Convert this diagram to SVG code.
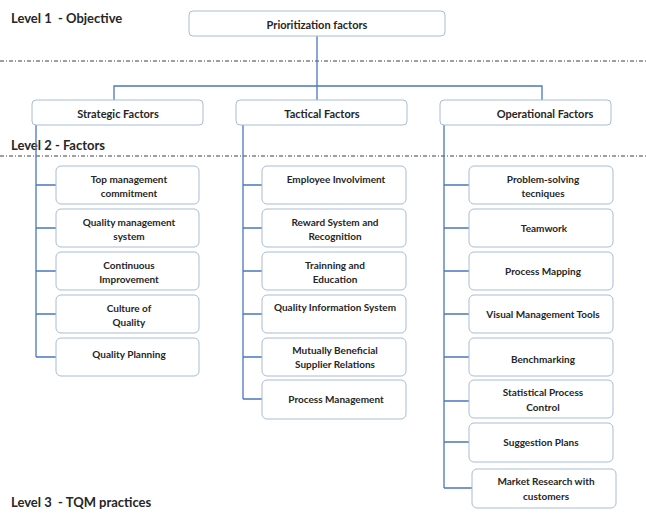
<svg xmlns="http://www.w3.org/2000/svg" width="646" height="513" viewBox="0 0 646 513">
<style>
.bg{fill:#fff}
.box{fill:#fff;stroke:#a9bcd6;stroke-width:1}
.t{font-family:Lato,"Liberation Sans",sans-serif;font-weight:bold;font-size:10px;fill:#262626;text-anchor:middle;dominant-baseline:central}
.t2{font-family:Lato,"Liberation Sans",sans-serif;font-weight:bold;font-size:11px;fill:#262626;text-anchor:middle;dominant-baseline:central}
.lvl{font-family:Lato,"Liberation Sans",sans-serif;font-weight:bold;font-size:13px;fill:#262626;white-space:pre}
.dash{stroke:#404040;stroke-width:1;stroke-dasharray:4 2 1 2;fill:none}
.c{stroke:#4a78bd;stroke-width:1.3;fill:none}
</style>
<rect class="bg" width="646" height="513"/>
<text class="lvl" x="11" y="23" xml:space="preserve">Level 1  - Objective</text>
<text class="lvl" x="11" y="150">Level 2 - Factors</text>
<text class="lvl" x="11" y="507" xml:space="preserve">Level 3  - TQM practices</text>
<line class="dash" x1="0" y1="61" x2="646" y2="61"/>
<line class="dash" x1="0" y1="156" x2="646" y2="156"/>
<g id="connectors">
<path class="c" d="M317,36 V100 M114,100 V86 H542 V100"/>
<path class="c" d="M36,125 V357 M36,185 H56 M36,228 H56 M36,271 H56 M36,314 H56 M36,357 H56"/>
<path class="c" d="M243,125 V399 M243,185 H262 M243,228 H262 M243,271 H262 M243,314 H262 M243,357 H262 M243,399 H262"/>
<path class="c" d="M444,125 V488 M444,185 H469 M444,228 H469 M444,271 H469 M444,314 H469 M444,357 H469 M444,401 H469 M444,442 H469 M444,488 H472"/>
</g>
<g id="n-prior"><rect class="box" x="189" y="11" width="256" height="25" rx="4"/><text class="t2" x="317" y="24">Prioritization factors</text></g>
<g id="n-strategic"><rect class="box" x="32" y="100" width="171" height="25" rx="4"/><text class="t2" x="118" y="113">Strategic Factors</text></g>
<g id="n-tactical"><rect class="box" x="236" y="100" width="171" height="25" rx="4"/><text class="t2" x="322" y="113">Tactical Factors</text></g>
<g id="n-operational"><rect class="box" x="440" y="100" width="171" height="25" rx="4"/><text class="t2" x="545" y="113">Operational Factors</text></g>

<g id="s1"><rect class="box" x="56" y="166" width="143" height="38" rx="5"/><text class="t" x="129" y="179">Top management</text><text class="t" x="129" y="193">commitment</text></g>
<g id="s2"><rect class="box" x="56" y="209" width="143" height="38" rx="5"/><text class="t" x="129" y="222">Quality management</text><text class="t" x="129" y="236">system</text></g>
<g id="s3"><rect class="box" x="56" y="252" width="143" height="38" rx="5"/><text class="t" x="129" y="265">Continuous</text><text class="t" x="129" y="279">Improvement</text></g>
<g id="s4"><rect class="box" x="56" y="295" width="143" height="38" rx="5"/><text class="t" x="129" y="308">Culture of</text><text class="t" x="129" y="322">Quality</text></g>
<g id="s5"><rect class="box" x="56" y="338" width="143" height="38" rx="5"/><text class="t" x="129" y="354">Quality Planning</text></g>

<g id="t1"><rect class="box" x="262" y="166" width="144" height="38" rx="5"/><text class="t" x="336" y="179">Employee Involviment</text></g>
<g id="t2"><rect class="box" x="262" y="209" width="144" height="38" rx="5"/><text class="t" x="335" y="222">Reward System and</text><text class="t" x="335" y="236">Recognition</text></g>
<g id="t3"><rect class="box" x="262" y="252" width="144" height="38" rx="5"/><text class="t" x="335" y="265">Trainning and</text><text class="t" x="335" y="279">Education</text></g>
<g id="t4"><rect class="box" x="262" y="295" width="144" height="38" rx="5"/><text class="t" x="335" y="307">Quality Information System</text></g>
<g id="t5"><rect class="box" x="262" y="338" width="144" height="38" rx="5"/><text class="t" x="335" y="350">Mutually Beneficial</text><text class="t" x="335" y="364">Supplier Relations</text></g>
<g id="t6"><rect class="box" x="262" y="380" width="144" height="39" rx="5"/><text class="t" x="336" y="399">Process Management</text></g>

<g id="o1"><rect class="box" x="469" y="166" width="144" height="38" rx="5"/><text class="t" x="543" y="179">Problem-solving</text><text class="t" x="543" y="193">tecniques</text></g>
<g id="o2"><rect class="box" x="469" y="209" width="144" height="38" rx="5"/><text class="t" x="544" y="228">Teamwork</text></g>
<g id="o3"><rect class="box" x="469" y="252" width="144" height="38" rx="5"/><text class="t" x="543" y="271">Process Mapping</text></g>
<g id="o4"><rect class="box" x="469" y="295" width="144" height="38" rx="5"/><text class="t" x="543" y="314">Visual Management Tools</text></g>
<g id="o5"><rect class="box" x="469" y="338" width="144" height="38" rx="5"/><text class="t" x="543" y="359">Benchmarking</text></g>
<g id="o6"><rect class="box" x="469" y="380" width="144" height="38" rx="5"/><text class="t" x="543" y="392">Statistical Process</text><text class="t" x="543" y="407">Control</text></g>
<g id="o7"><rect class="box" x="469" y="423" width="144" height="39" rx="5"/><text class="t" x="541" y="442">Suggestion Plans</text></g>
<g id="o8"><rect class="box" x="472" y="469" width="144" height="39" rx="5"/><text class="t" x="546" y="481">Market Research with</text><text class="t" x="546" y="496">customers</text></g>
</svg>
